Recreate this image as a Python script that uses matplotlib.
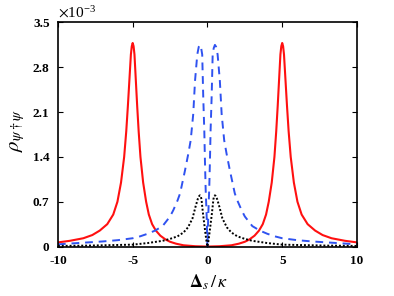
import numpy as np
import matplotlib
matplotlib.use("Agg")
import matplotlib.pyplot as plt

# values in units of 1e-3 (left half, mirrored below)
red_x = [-10, -9.2, -8.3, -7.7, -7.2, -6.7, -6.3, -6.02, -5.78, -5.57, -5.43, -5.32, -5.22,
         -5.12, -5.06, -5.0, -4.94, -4.88, -4.79, -4.7, -4.6, -4.48, -4.3, -4.1, -3.92, -3.7,
         -3.45, -3.15, -2.8, -2.5, -2.1, -1.6, -0.8, 0.0]
red_y = [0.065, 0.09, 0.13, 0.18, 0.25, 0.35, 0.5, 0.7, 1.0, 1.4, 1.8, 2.2, 2.6,
         3.0, 3.13, 3.18, 3.13, 3.0, 2.6, 2.2, 1.8, 1.4, 1.0, 0.7, 0.5, 0.35,
         0.25, 0.17, 0.11, 0.075, 0.045, 0.02, 0.005, 0.0]

blue_x = [-10, -9, -8, -7, -6, -5, -4.5, -4, -3.5, -3, -2.5, -2.28, -2, -1.83, -1.5, -1.28,
          -1.12, -0.95, -0.83, -0.68, -0.58, -0.5, -0.42, -0.35, -0.28, -0.21, -0.17, -0.12, -0.05, 0.0]
blue_y = [0.035, 0.05, 0.065, 0.08, 0.1, 0.13, 0.16, 0.2, 0.25, 0.32, 0.47, 0.57, 0.72, 0.83, 1.19, 1.45,
          1.66, 2.07, 2.59, 3.0, 3.12, 3.15, 3.1, 3.0, 2.33, 1.81, 1.37, 0.9, 0.46, 0.0]

black_x = [-10, -8, -6, -5, -4, -3, -2.5, -2, -1.6, -1.3, -1.0, -0.8, -0.65, -0.55, -0.5,
           -0.45, -0.4, -0.3, -0.2, -0.12, -0.05, 0.0]
black_y = [0.01, 0.015, 0.025, 0.03, 0.055, 0.09, 0.12, 0.16, 0.22, 0.30, 0.44, 0.62, 0.74, 0.79, 0.80,
           0.79, 0.74, 0.52, 0.33, 0.18, 0.06, 0.0]

yticks = [0, 0.7, 1.4, 2.1, 2.8, 3.5]
ytick_labels = ['0', '0.7', '1.4', '2.1', '2.8', '3.5']
xticks = [-10, -5, 0, 5, 10]


def mirror(xs, ys):
    return xs + [-v for v in xs[::-1][1:]], ys + ys[::-1][1:]


red_full_x, red_full_y = mirror(red_x, red_y)
blue_full_x, blue_full_y = mirror(blue_x, blue_y)
black_full_x, black_full_y = mirror(black_x, black_y)

plt.rcParams['font.family'] = ['Liberation Serif', 'DejaVu Serif']
plt.rcParams['mathtext.fontset'] = 'stix'

fig = plt.figure(figsize=(3.94, 2.96), dpi=100)
ax = fig.add_axes([0.147, 0.167, 0.759, 0.757])

ax.plot(red_full_x, red_full_y, color='#ff1010', lw=1.5)
ax.plot(blue_full_x, blue_full_y, color='#2f52f0', lw=1.4, linestyle=(0, (4, 3)))
ax.plot(black_full_x, black_full_y, color='black', lw=1.4, linestyle=(0, (1, 1)))

ax.set_xlim(-10, 10)
ax.set_ylim(0, 3.5)
ax.set_xticks(xticks)
ax.set_yticks(yticks)
ax.set_xticklabels([str(t) for t in xticks], fontweight='bold', fontsize=9.5)
ax.set_yticklabels(ytick_labels, fontweight='bold', fontsize=9.5)
ax.tick_params(direction='in', top=True, right=True, length=3.5, width=0.8, pad=6)
for s in ax.spines.values():
    s.set_linewidth(1.2)

ax.text(0.0, 1.01, r'$\times\mathregular{10}^{\mathregular{-3}}$', transform=ax.transAxes,
        fontsize=11, ha='left', va='bottom')
fig.text(0.53, 0.015, r'$\mathbf{\Delta}_{\mathit{s}}\,/\,\mathit{\kappa}$', fontsize=13,
         ha='center', va='bottom')
fig.text(0.045, 0.56, r'$\rho_{\psi\dagger\psi}$', fontsize=15, rotation=90,
         ha='center', va='center')

fig.savefig('out.png', dpi=100)
